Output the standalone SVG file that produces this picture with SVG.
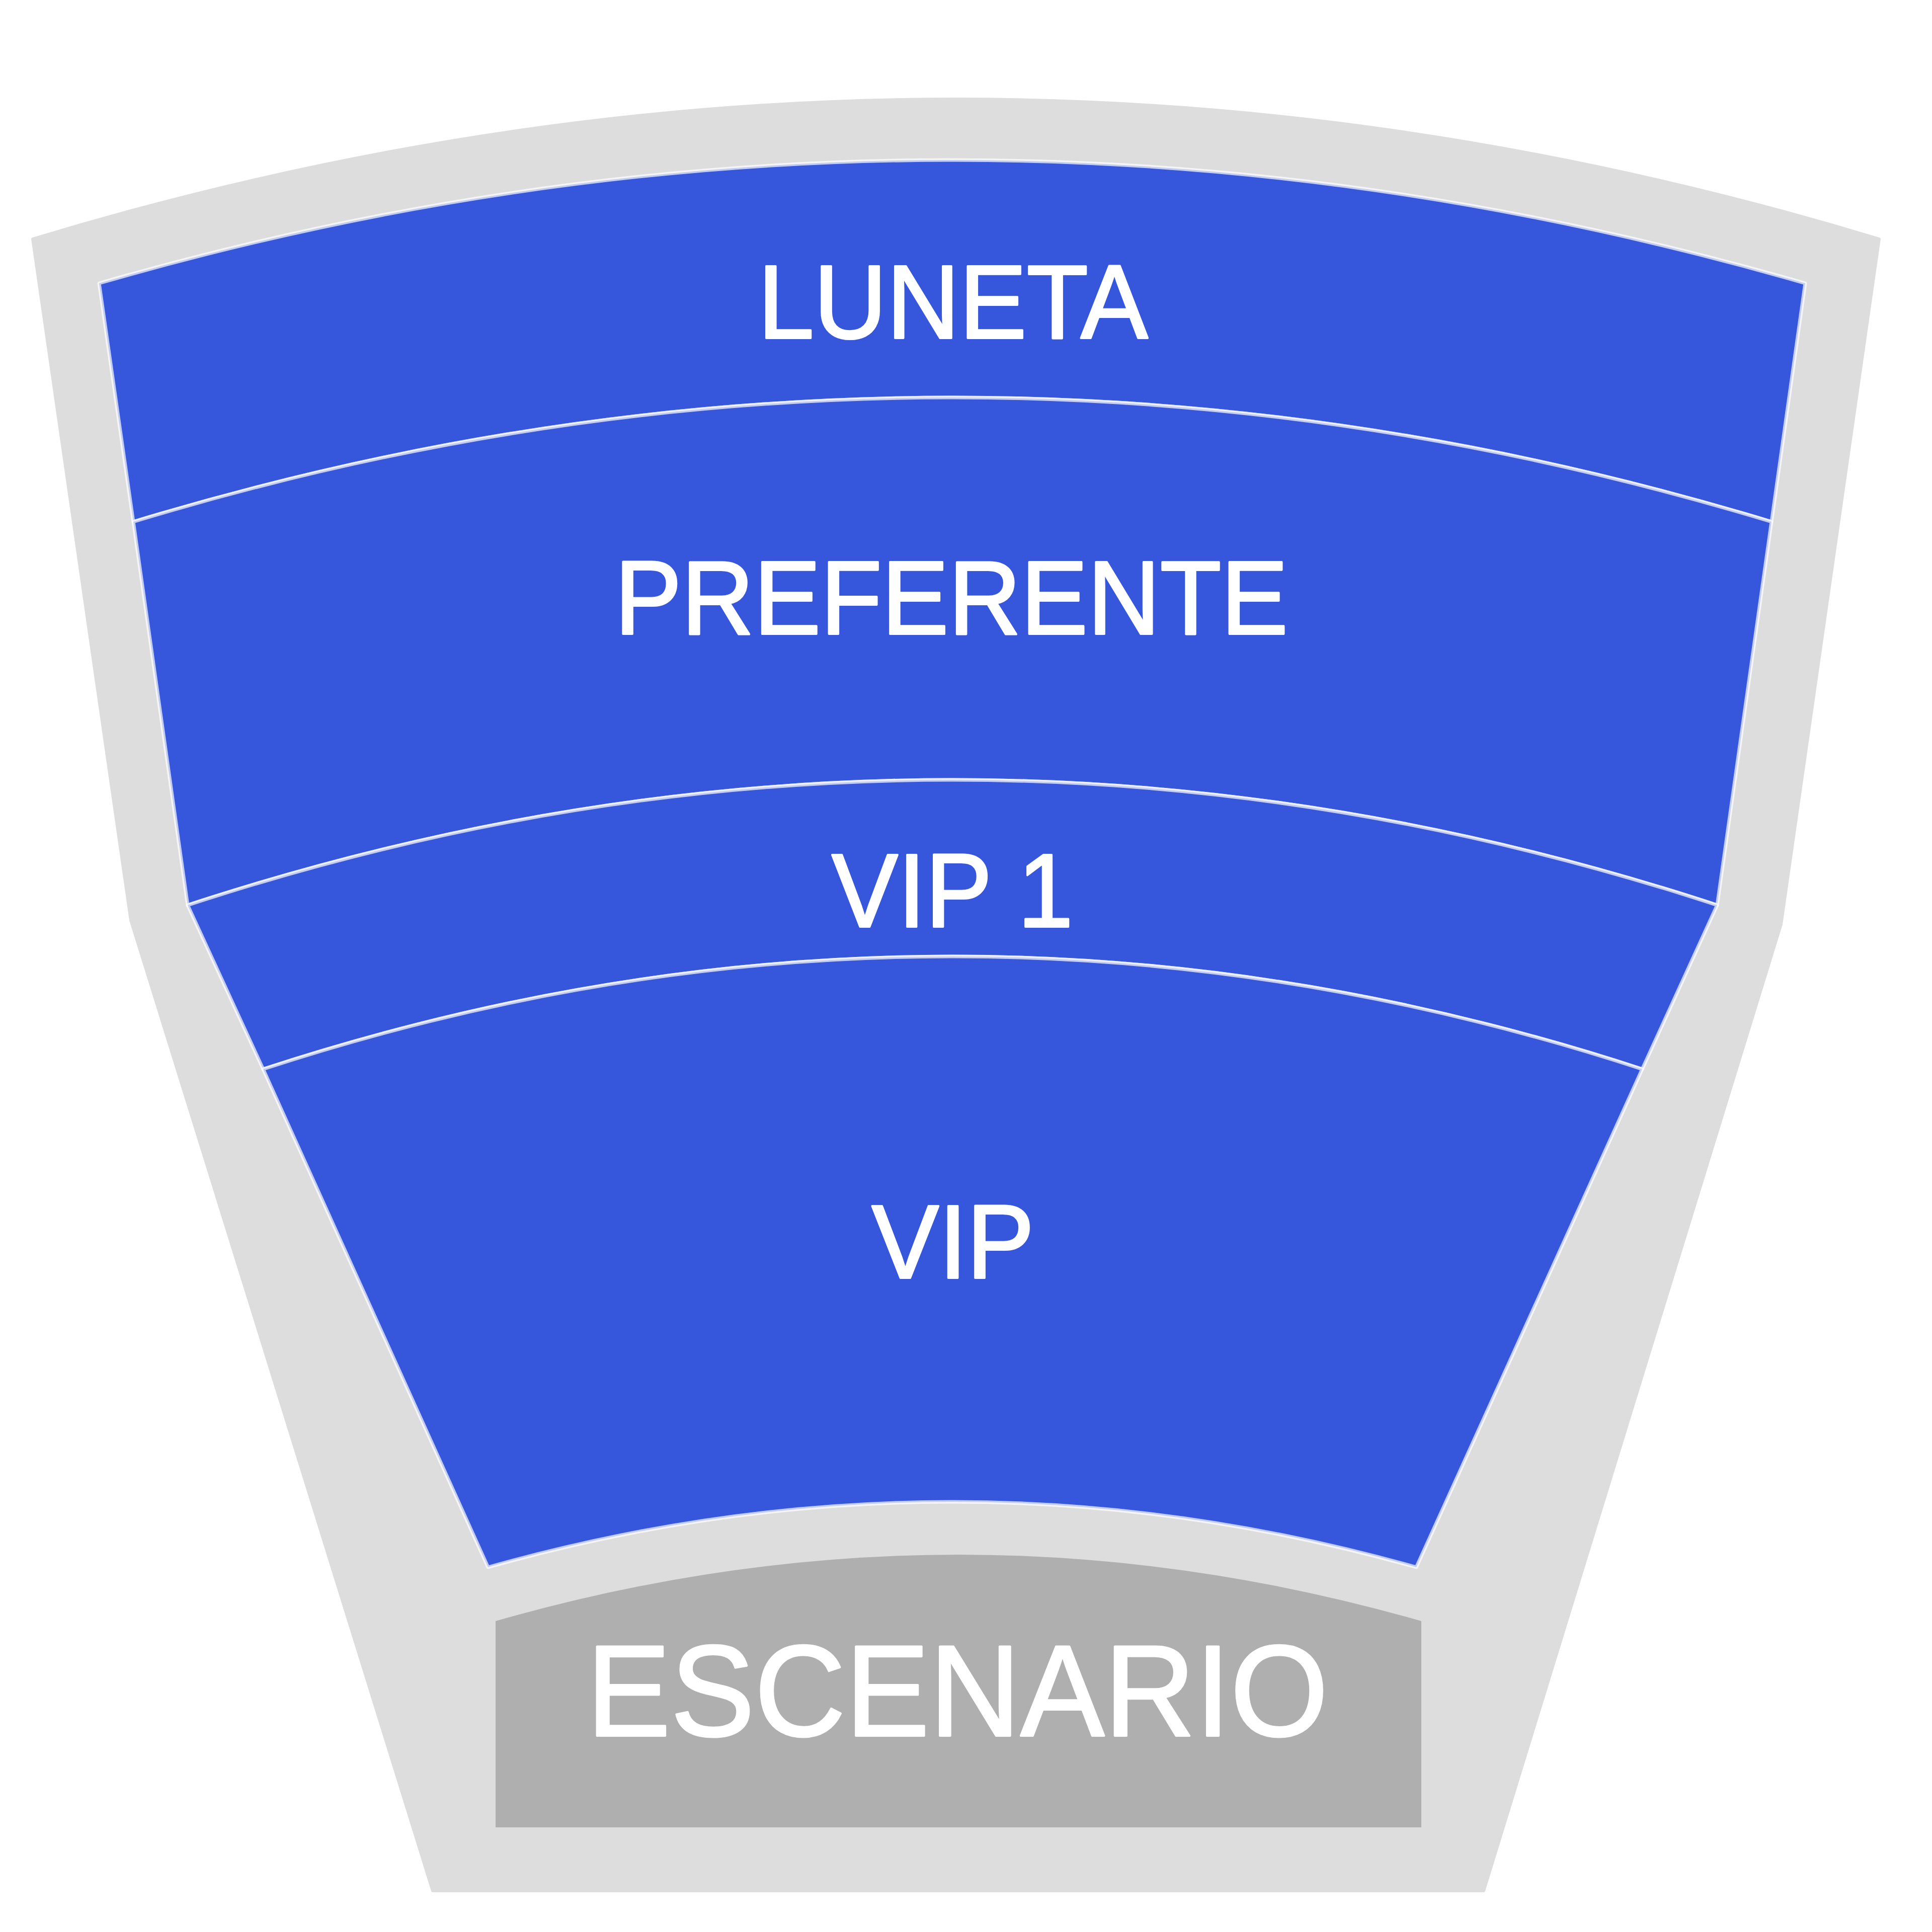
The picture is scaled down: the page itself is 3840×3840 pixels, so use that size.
<svg xmlns="http://www.w3.org/2000/svg" width="3840" height="3840" viewBox="0 0 3840 3840">
  <style>
    .sec { fill: #3657DB; stroke: #FFFFFF; stroke-opacity: 0.7; stroke-width: 7; stroke-linejoin: round; }
    .lbl { font-family: "Liberation Sans", Arial, sans-serif; font-size: 208px; fill: #FFFFFF; stroke: #FFFFFF; stroke-width: 4; stroke-linejoin: round; text-anchor: middle; }
    .stage { fill: #AFAFAF; }
    .stagelbl { font-family: "Liberation Sans", Arial, sans-serif; font-size: 258px; fill: #FFFFFF; stroke: #FFFFFF; stroke-width: 4; stroke-linejoin: round; text-anchor: middle; }
  </style>
  <rect x="0" y="0" width="3840" height="3840" fill="#FFFFFF"/>
  <g id="venue">
    <path d="M65,475 Q1900,-81 3735,475 L3540,1837 L2949,3758 L860,3758 L260,1829 Z" fill="#DDDDDD" stroke="#DDDDDD" stroke-width="6" stroke-linejoin="round"/>
  </g>
  <g id="luneta">
    <path class="sec" d="M197,563 Q1893,73 3588,563 L3521,1037 Q1893,543 265,1037 Z"/>
    <text class="lbl" x="1894" y="672" textLength="775" lengthAdjust="spacingAndGlyphs">LUNETA</text>
  </g>
  <g id="preferente">
    <path class="sec" d="M265,1037 Q1893,543 3521,1037 L3413,1799 Q1893,1301 373,1799 Z"/>
    <text class="lbl" x="1891" y="1260" textLength="1338" lengthAdjust="spacingAndGlyphs">PREFERENTE</text>
  </g>
  <g id="vip1">
    <path class="sec" d="M373,1799 Q1893,1301 3413,1799 L3264,2125 Q1893,1677 523,2125 Z"/>
    <text class="lbl" x="1893" y="1842" textLength="480" lengthAdjust="spacingAndGlyphs">VIP 1</text>
  </g>
  <g id="vip">
    <path class="sec" d="M523,2125 Q1893,1677 3264,2125 L2815,3115 Q1892,2855 970,3115 Z"/>
    <text class="lbl" x="1894" y="2540" textLength="323" lengthAdjust="spacingAndGlyphs">VIP</text>
  </g>
  <g id="escenario">
    <path class="stage" d="M985,3222 Q1905,2958 2825,3222 L2825,3632 L985,3632 Z"/>
    <text class="stagelbl" x="1903" y="3450" textLength="1474" lengthAdjust="spacingAndGlyphs">ESCENARIO</text>
  </g>
  <g id="connectors"></g>
</svg>
